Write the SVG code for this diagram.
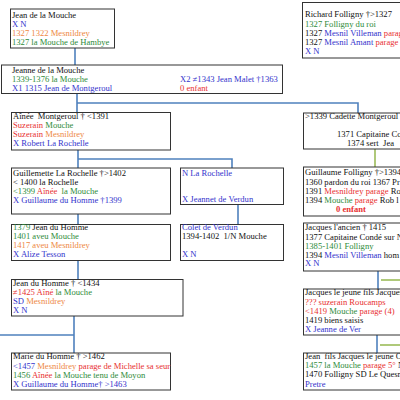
<svg xmlns="http://www.w3.org/2000/svg" width="400" height="400" viewBox="0 0 400 400">
<style>
text{font-family:"Liberation Serif","Times New Roman",serif;font-size:8.6px;fill:#111;white-space:pre}
.b{fill:#3333cc}.o{fill:#ee8844}.g{fill:#2e8b3a}.r{fill:#e83030}
.bold{font-weight:bold}
.box{fill:#fff;stroke:#333;stroke-width:1}
.c{fill:none;stroke:#4f81bd;stroke-width:1.6}
.cg{fill:none;stroke:#9bbb59;stroke-width:1.6}
</style>
<rect width="400" height="400" fill="#fff"/>
<g id="connectors">
<path class="c" d="M75 48V65"/>
<path class="c" d="M77 93.5V112.5M77 103H358V113"/>
<path class="c" d="M78 150V168M78 159H232V168"/>
<path class="c" d="M238 204.5V224.5"/>
<path class="c" d="M78 214V224.5"/>
<path class="c" d="M78 260.5V279.5"/>
<path class="c" d="M74 316V353M0 335H74"/>
<path class="cg" d="M375 149V167"/>
<path class="c" d="M378 271V289"/>
<path class="cg" d="M381 280H400"/>
<path class="c" d="M377 335V353"/>
<path class="cg" d="M380 345H400"/>
</g>
<g id="n1">
<rect class="box" x="10.5" y="9" width="104" height="39"/>
<text x="12" y="17.6">Jean de la Mouche</text>
<text x="12" y="26.8" class="b">X N</text>
<text x="12" y="36" class="o">1327 1322 Mesnildrey</text>
<text x="12" y="45.3" class="g">1327 la Mouche de Hambye</text>
</g>
<g id="n2">
<rect class="box" x="302.5" y="2.5" width="120" height="55.5"/>
<text x="305" y="17">Richard Folligny †&gt;1327</text>
<text x="305" y="26.5" class="g">1327 Folligny du roi</text>
<text x="305" y="36">1327 <tspan class="b">Mesnil Villeman</tspan> <tspan class="r">parage</tspan></text>
<text x="305" y="45">1327 <tspan class="b">Mesnil Amant</tspan> <tspan class="r">parage</tspan></text>
<text x="305" y="54" class="b">X N</text>
</g>
<g id="n3">
<rect class="box" x="1.5" y="65" width="281" height="28.5"/>
<text x="12" y="72.5">Jeanne de la Mouche</text>
<text x="12" y="82" class="g">1339-1376 la Mouche</text>
<text x="12" y="91" class="b">X1 1315 Jean de Montgeroul</text>
<text x="180" y="81.5" class="b">X2 ≠1343 Jean Malet †1363</text>
<text x="180" y="90.7" class="r">0 enfant</text>
</g>
<g id="n4">
<rect class="box" x="11.5" y="112.5" width="159" height="37.5"/>
<text x="13" y="118.5">Aînée  Montgeroul † &lt;1391</text>
<text x="13" y="128"><tspan class="r">Suzerain</tspan> <tspan class="g">Mouche</tspan></text>
<text x="13" y="137"><tspan class="r">Suzerain</tspan> <tspan class="o">Mesnildrey</tspan></text>
<text x="13" y="146" class="b">X Robert La Rochelle</text>
</g>
<g id="n5">
<rect class="box" x="303.5" y="113" width="120" height="36"/>
<text x="305" y="119">&gt;1339 Cadette Montgeroul</text>
<text x="337" y="137">1371 Capitaine Co</text>
<text x="347" y="146">1374 sert  Jea</text>
</g>
<g id="n6">
<rect class="box" x="11.5" y="168" width="159" height="46"/>
<text x="13" y="175.5">Guillemette La Rochelle †&gt;1402</text>
<text x="13" y="184.5">&lt; 1400 la Rochelle</text>
<text x="13" y="193.5"><tspan class="g">&lt;1399</tspan> <tspan class="r">Aînée</tspan>  <tspan class="g">la Mouche</tspan></text>
<text x="13" y="202.7" class="b">X Guillaume du Homme †1399</text>
</g>
<g id="n7">
<rect class="box" x="180.5" y="168" width="103" height="36.5"/>
<text x="182" y="175.5" class="b">N La Rochelle</text>
<text x="182" y="202" class="b">X Jeannet de Verdun</text>
</g>
<g id="n8">
<rect class="box" x="303.5" y="167" width="120" height="49"/>
<text x="305" y="175">Guillaume Folligny †&gt;1394</text>
<text x="305" y="184.5">1360 pardon du roi 1367 Pr</text>
<text x="305" y="194">1391 <tspan class="r">Mesnildrey parage</tspan> Rob</text>
<text x="305" y="203">1394 <tspan class="g">Mouche</tspan> <tspan class="r">parage</tspan> Rob l</text>
<text x="336" y="212" class="r bold">0 enfant</text>
</g>
<g id="n9">
<rect class="box" x="11.5" y="224.5" width="159" height="36"/>
<text x="13" y="230"><tspan class="g">1379</tspan> Jean du Homme</text>
<text x="13" y="239" class="g">1401 aveu Mouche</text>
<text x="13" y="248" class="o">1417 aveu Mesnildrey</text>
<text x="13" y="257" class="b">X Alize Tesson</text>
</g>
<g id="n10">
<rect class="box" x="180.5" y="224.5" width="103" height="36"/>
<text x="182" y="230" class="b">Colet de Verdun</text>
<text x="182" y="239">1394-1402  1/N Mouche</text>
<text x="182" y="257" class="b">X N</text>
</g>
<g id="n11">
<rect class="box" x="303.5" y="223" width="120" height="48"/>
<text x="305" y="229.5">Jacques l'ancien † 1415</text>
<text x="305" y="239.5">1377 Capitaine Condé sur N</text>
<text x="305" y="248.5" class="g">1385-1401 Folligny</text>
<text x="305" y="257.5">1394 <tspan class="b">Mesnil Villeman</tspan> hom</text>
<text x="305" y="266" class="b">X N</text>
</g>
<g id="n12">
<rect class="box" x="11.5" y="279.5" width="171.5" height="36.5"/>
<text x="13" y="285.5">Jean du Homme † &lt;1434</text>
<text x="13" y="295"><tspan class="r">≠1425 Aîné</tspan> <tspan class="g">la Mouche</tspan></text>
<text x="13" y="304"><tspan class="b">SD</tspan> <tspan class="o">Mesnildrey</tspan></text>
<text x="13" y="313" class="b">X N</text>
</g>
<g id="n13">
<rect class="box" x="303.5" y="289" width="120" height="46"/>
<text x="305" y="295">Jacques le jeune fils Jacques</text>
<text x="305" y="304.5" class="r">??? suzerain Roucamps</text>
<text x="305" y="313.5"><tspan class="r">&lt;1419</tspan> <tspan class="g">Mouche</tspan> <tspan class="r">parage (4)</tspan></text>
<text x="305" y="322.5">1419 biens saisis</text>
<text x="305" y="331.5" class="b">X Jeanne de Ver</text>
</g>
<g id="n14">
<rect class="box" x="11.5" y="353" width="159" height="37"/>
<text x="13" y="359">Marie du Homme † &gt;1462</text>
<text x="13" y="368.5"><tspan class="b">&lt;1457</tspan> <tspan class="o">Mesnildrey</tspan> <tspan class="r">parage de Michelle sa seur</tspan></text>
<text x="13" y="377.5"><tspan class="g">1456</tspan> <tspan class="r">Aînée</tspan> <tspan class="g">la Mouche tenu de Moyon</tspan></text>
<text x="13" y="386.5" class="b">X Guillaume du Homme† &gt;1463</text>
</g>
<g id="n15">
<rect class="box" x="303.5" y="353" width="120" height="37"/>
<text x="305" y="359">Jean  fils Jacques le jeune C</text>
<text x="305" y="368"><tspan class="g">1457 la Mouche</tspan> <tspan class="r">parage 5°</tspan> N</text>
<text x="305" y="377">1470 Folligny SD Le Quesn</text>
<text x="305" y="387" class="b">Pretre</text>
</g>
</svg>
